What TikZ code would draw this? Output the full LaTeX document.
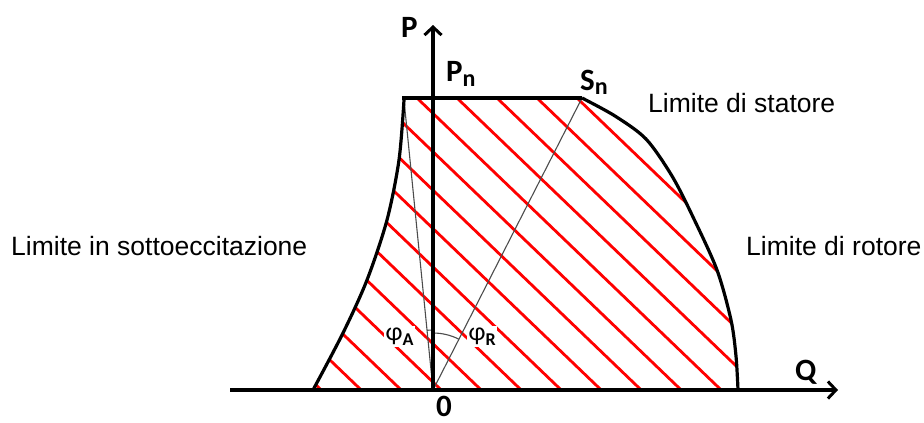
\documentclass[tikz,border=0pt]{standalone}
\usepackage{fontspec}
\setmainfont{Liberation Sans}
\newfontfamily\lblfont{Carlito}
\usetikzlibrary{arrows.meta}
\begin{document}
\begin{tikzpicture}[x=1pt,y=-1pt,
  thickline/.style={line width=3.2pt, black},
  thinline/.style={line width=1.1pt, black!70},
  hatchline/.style={line width=2.8pt, red},
  axisarrow/.style={line width=3.2pt, black, -{Straight Barb[length=8pt,width=17pt,line width=3pt]}},
  caption/.style={font=\fontsize{26.5}{30}\selectfont, inner sep=0pt, anchor=base west},
  axlabel/.style={font=\lblfont\bfseries\fontsize{31}{34}\selectfont, inner sep=0pt, anchor=base west},
  anglabel/.style={font=\lblfont\fontsize{26}{30}\selectfont, inner sep=1.5pt, anchor=base west, fill=white}
]
\useasboundingbox (0,0) rectangle (924,423);

\coordinate (O) at (433,390);
\coordinate (TL) at (402,98);
\coordinate (Sn) at (582,98);
\coordinate (RB) at (738,390);
\coordinate (LB) at (313,390);
\coordinate (LT) at (404,100);
\coordinate (Qs) at (230,390);
\coordinate (Qe) at (838,390);
\coordinate (Pe) at (433,25);

\def\rightcurve{(582,98) (615,116) (646,139) (672,176) (693,217) (717,270) (731,320) (736,356) (738,390)}
\def\leftcurve{(313,390) (343,333) (367,280) (387,220) (399,160) (404,100)}

% hatching
\begin{scope}
  \clip (TL) -- (Sn) -- plot[smooth, tension=0.5] coordinates {\rightcurve}
        -- (LB) -- plot[smooth] coordinates {\leftcurve} -- cycle;
  \foreach \k in {-11,...,4} {
    \pgfmathsetmacro{\xa}{417+40*\k-39.6}
    \pgfmathsetmacro{\xb}{417+40*\k+314.6}
    \draw[hatchline] (\xa,60) -- (\xb,400);
  }
\end{scope}

% thin lines
\draw[thinline] (O) -- (Sn);
\draw[thinline] (O) -- (LT);
\draw[thinline] (433,333) arc[start angle=90, end angle=63, radius=57pt];
\draw[thinline] (433,330) arc[start angle=90, end angle=95.7, radius=60pt];

% boundary
\draw[thickline] (TL) -- (Sn);
\draw[thickline] plot[smooth, tension=0.5] coordinates {\rightcurve};
\draw[thickline] plot[smooth] coordinates {\leftcurve};

% axes
\draw[axisarrow] (Qs) -- (Qe);
\draw[axisarrow] (O) -- (Pe);

% labels
\node[axlabel] (lP) at (401,37) {P};
\node[axlabel] (lPn) at (446,81) {P\raisebox{-5pt}{\fontsize{24}{28}\selectfont n}};
\node[axlabel] (lSn) at (580,90) {S\raisebox{-4pt}{\fontsize{24}{28}\selectfont n}};
\node[axlabel] (lQ) at (795,380) {Q};
\node[axlabel] (l0) at (436,416) {0};

\node[anglabel] (phA) at (384,340) {φ\raisebox{-5pt}{\bfseries\fontsize{18}{22}\selectfont A}};
\node[anglabel] (phR) at (467,340) {φ\raisebox{-5pt}{\bfseries\fontsize{18}{22}\selectfont R}};

\node[caption] (c1) at (11,255) {Limite in sottoeccitazione};
\node[caption] (c2) at (746,255) {Limite di rotore};
\node[caption] (c3) at (648,112) {Limite di statore};
\end{tikzpicture}
\end{document}
